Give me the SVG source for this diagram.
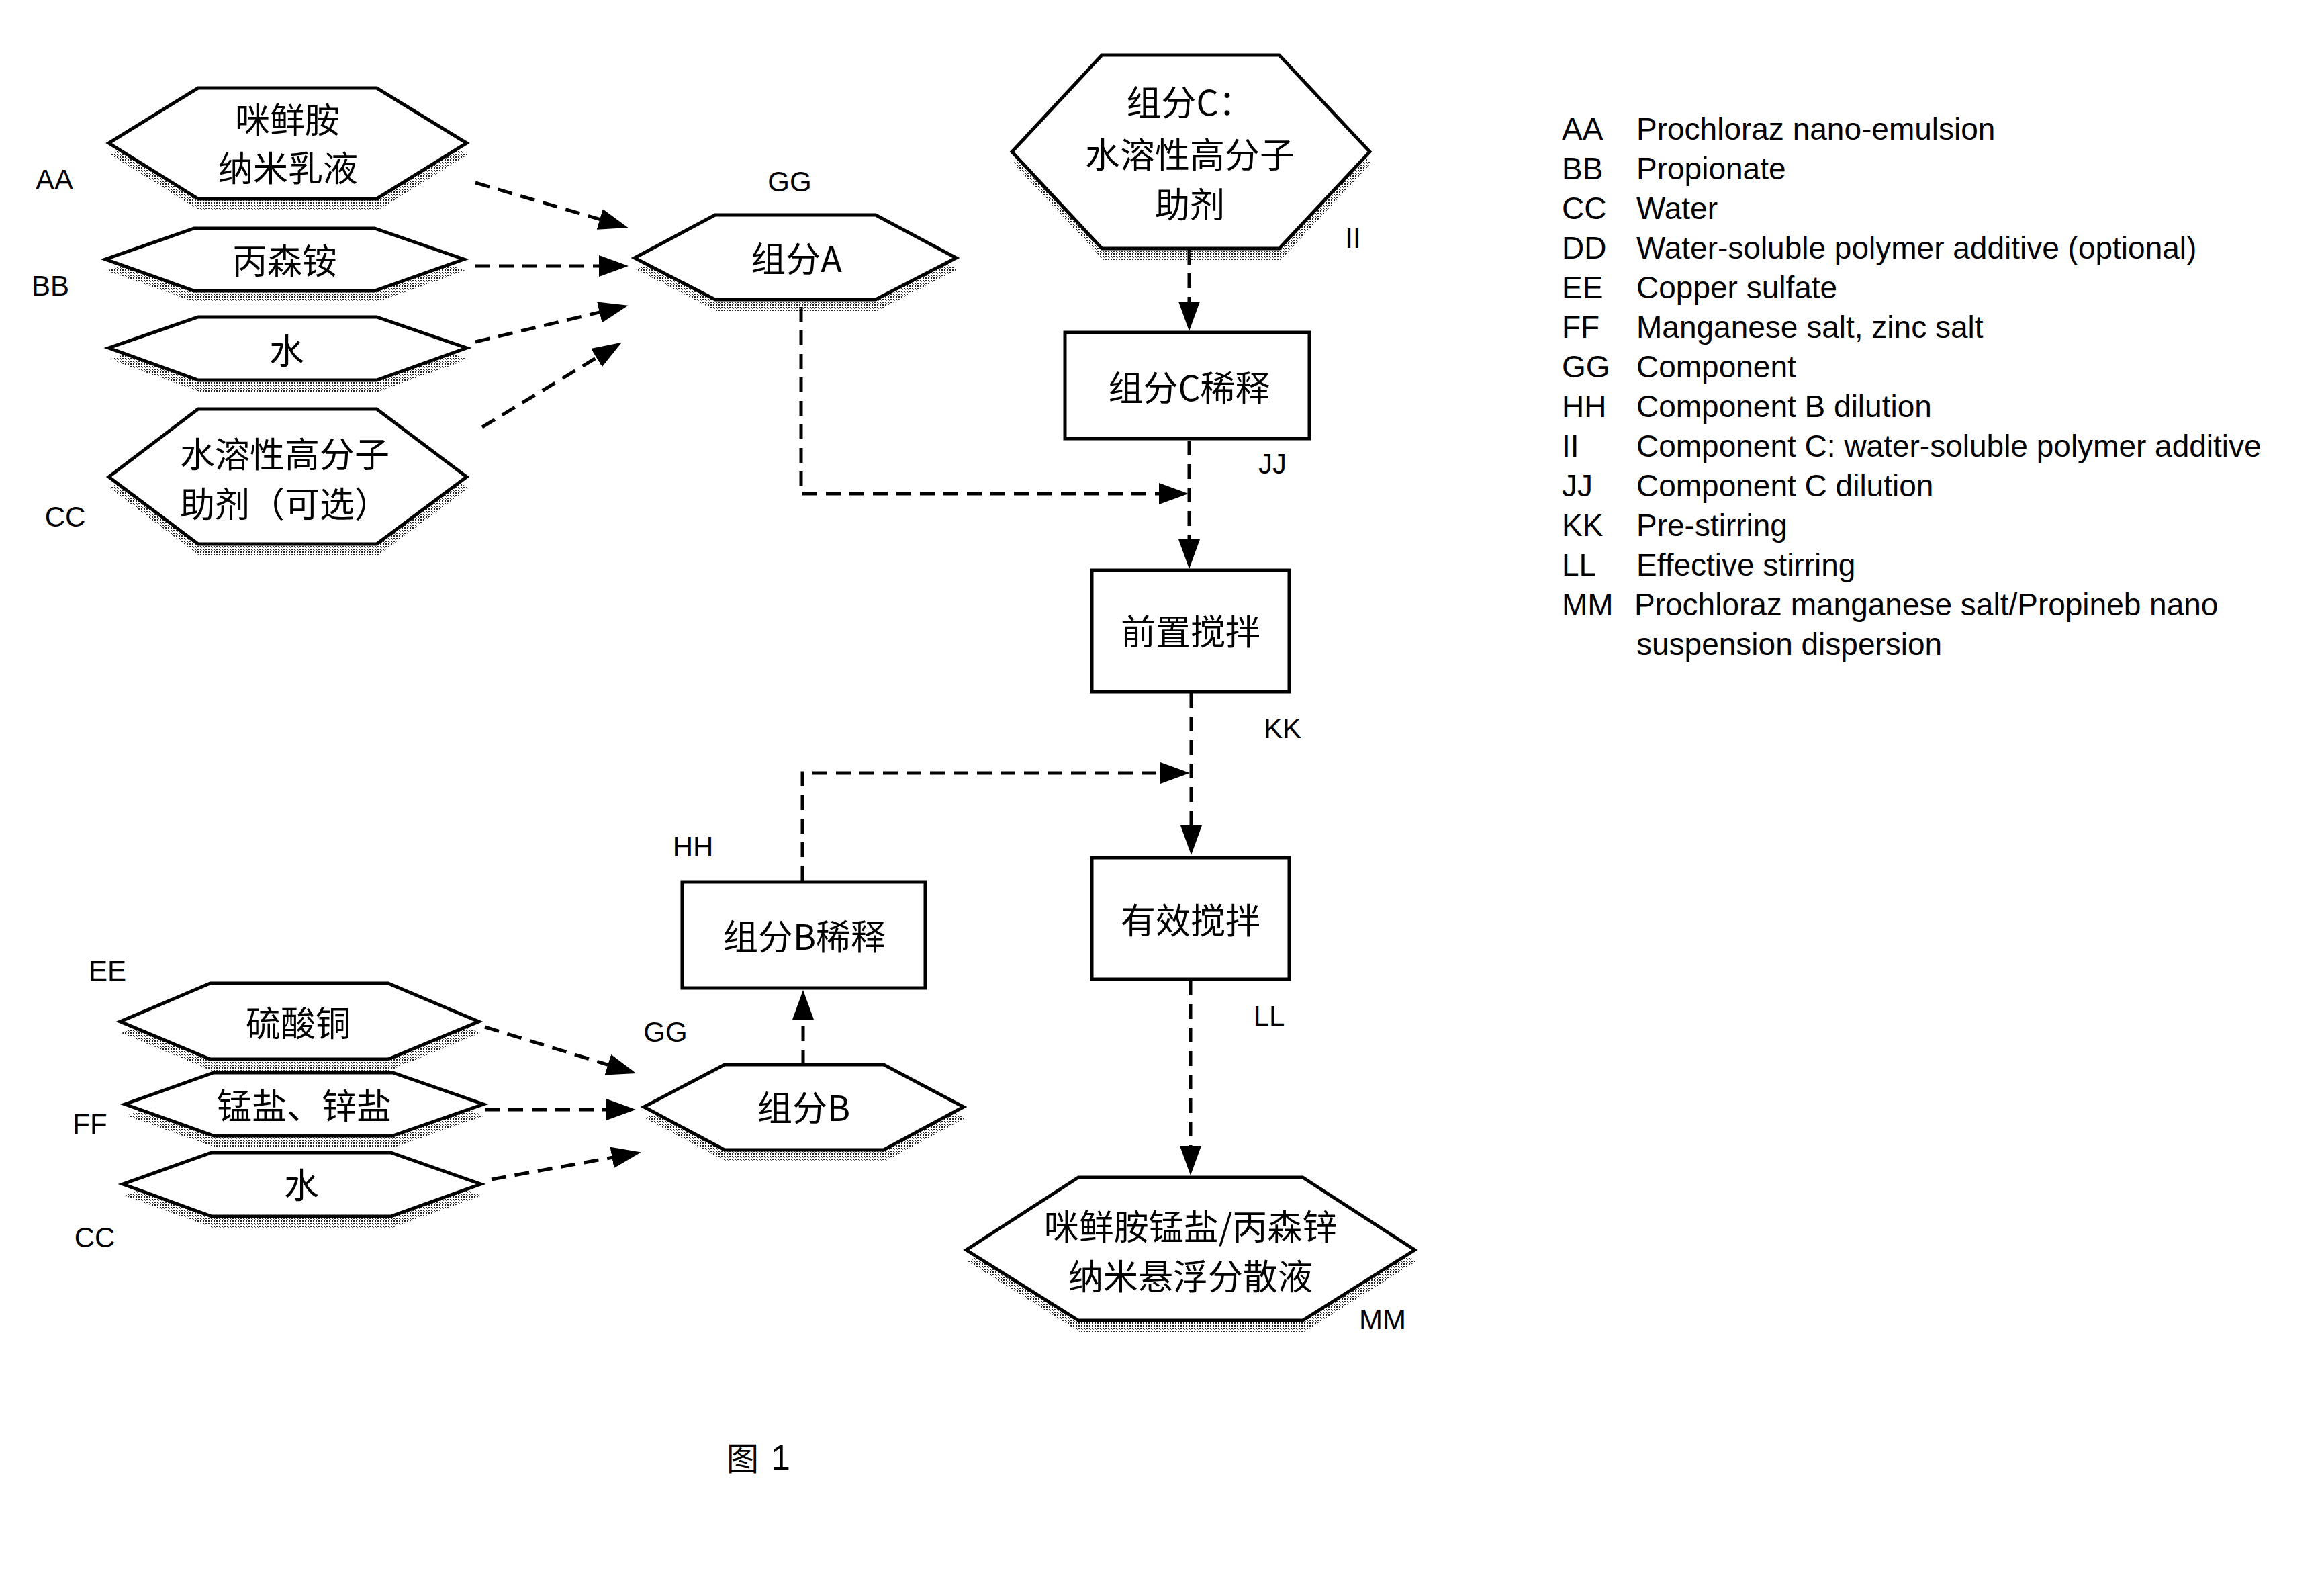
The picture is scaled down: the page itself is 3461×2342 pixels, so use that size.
<svg xmlns="http://www.w3.org/2000/svg" width="3461" height="2342" viewBox="0 0 3461 2342">
<defs>
<style>
.hex{fill:#fff;stroke:#000;stroke-width:5;stroke-linejoin:miter}
.box{fill:#fff;stroke:#000;stroke-width:5}
.sh{fill:url(#dots);stroke:none}
.cn{font-family:"Noto Sans CJK SC","Noto Sans",sans-serif;font-size:52px;fill:#000;text-anchor:middle}
.lb{font-family:"Liberation Sans",Arial,sans-serif;font-size:42px;fill:#000;text-anchor:middle}
.lg{font-family:"Liberation Sans",Arial,sans-serif;font-size:46px;fill:#000}
.ln{fill:none;stroke:#000;stroke-width:5;stroke-dasharray:22 13;marker-end:url(#arr)}
</style>
<pattern id="dots" width="4" height="4" patternUnits="userSpaceOnUse">
<rect x="0" y="0" width="2" height="2" fill="#222"/>
<rect x="2" y="2" width="1" height="1" fill="#666"/>
</pattern>
<marker id="arr" markerUnits="userSpaceOnUse" markerWidth="44" markerHeight="32" refX="30" refY="16" orient="auto">
<path d="M0,0 L44,16 L0,32 Z" fill="#000"/>
</marker>
</defs>
<rect width="3461" height="2342" fill="#fff"/>

<g id="connectors">
<line class="ln" x1="708" y1="272" x2="922" y2="335"/>
<line class="ln" x1="708" y1="396" x2="922" y2="396"/>
<line class="ln" x1="708" y1="509" x2="922" y2="458"/>
<line class="ln" x1="718" y1="636" x2="914" y2="517"/>
<path class="ln" d="M1193,457 V735 H1756"/>
<line class="ln" x1="1771" y1="372" x2="1771" y2="479"/>
<line class="ln" x1="1771" y1="656" x2="1771" y2="833"/>
<line class="ln" x1="1774" y1="1032" x2="1774" y2="1259"/>
<path class="ln" d="M1195,1311 V1151 H1758"/>
<line class="ln" x1="1773" y1="1460" x2="1773" y2="1736"/>
<line class="ln" x1="1196" y1="1585" x2="1196" y2="1488"/>
<line class="ln" x1="722" y1="1529" x2="934" y2="1594"/>
<line class="ln" x1="722" y1="1652" x2="933" y2="1652"/>
<line class="ln" x1="732" y1="1756" x2="941" y2="1718"/>
</g>

<g id="nAA">
<polygon class="sh" transform="translate(2,17)" points="295,131 561,131 695,213 561,296 295,296 162,213"/>
<polygon class="hex" points="295,131 561,131 695,213 561,296 295,296 162,213"/>
<text class="cn" x="428" y="198">咪鲜胺</text>
<text class="cn" x="429" y="270">纳米乳液</text>
<text class="lb" x="81" y="282">AA</text>
</g>

<g id="nBB">
<polygon class="sh" transform="translate(2,17)" points="289,340 558,340 691,386 558,433 289,433 157,386"/>
<polygon class="hex" points="289,340 558,340 691,386 558,433 289,433 157,386"/>
<text class="cn" x="424" y="408">丙森铵</text>
<text class="lb" x="75" y="440">BB</text>
</g>

<g id="nWater1">
<polygon class="sh" transform="translate(2,17)" points="295,472 561,472 695,518 561,566 295,566 162,518"/>
<polygon class="hex" points="295,472 561,472 695,518 561,566 295,566 162,518"/>
<text class="cn" x="427" y="542">水</text>
</g>

<g id="nCC">
<polygon class="sh" transform="translate(2,17)" points="295,609 561,609 695,710 561,810 295,810 162,710"/>
<polygon class="hex" points="295,609 561,609 695,710 561,810 295,810 162,710"/>
<text class="cn" x="268" y="696" style="text-anchor:start">水溶性高分子</text>
<text class="cn" x="268" y="770" style="text-anchor:start">助剂（可选）</text>
<text class="lb" x="97" y="784">CC</text>
</g>

<g id="nA">
<polygon class="sh" transform="translate(2,17)" points="1065,320 1304,320 1424,384 1304,446 1065,446 945,384"/>
<polygon class="hex" points="1065,320 1304,320 1424,384 1304,446 1065,446 945,384"/>
<text class="cn" x="1186" y="405">组分A</text>
<text class="lb" x="1176" y="285">GG</text>
</g>

<g id="nC">
<polygon class="sh" transform="translate(2,17)" points="1641,82 1905,82 2040,226 1905,370 1641,370 1507,226"/>
<polygon class="hex" points="1641,82 1905,82 2040,226 1905,370 1641,370 1507,226"/>
<text class="cn" x="1772" y="172">组分C：</text>
<text class="cn" x="1772" y="250">水溶性高分子</text>
<text class="cn" x="1772" y="324">助剂</text>
<text class="lb" x="2015" y="369">II</text>
</g>

<g id="nCdil">
<rect class="box" x="1586" y="495" width="364" height="158"/>
<text class="cn" x="1771" y="597">组分C稀释</text>
<text class="lb" x="1895" y="705">JJ</text>
</g>

<g id="nPre">
<rect class="box" x="1626" y="849" width="294" height="181"/>
<text class="cn" x="1773" y="960">前置搅拌</text>
<text class="lb" x="1910" y="1099">KK</text>
</g>

<g id="nEff">
<rect class="box" x="1626" y="1277" width="294" height="181"/>
<text class="cn" x="1773" y="1390">有效搅拌</text>
<text class="lb" x="1890" y="1527">LL</text>
</g>

<g id="nBdil">
<rect class="box" x="1016" y="1313" width="362" height="158"/>
<text class="cn" x="1198" y="1414">组分B稀释</text>
<text class="lb" x="1032" y="1275">HH</text>
</g>

<g id="nB">
<polygon class="sh" transform="translate(2,17)" points="1079,1585 1316,1585 1435,1648 1316,1712 1079,1712 959,1648"/>
<polygon class="hex" points="1079,1585 1316,1585 1435,1648 1316,1712 1079,1712 959,1648"/>
<text class="cn" x="1197" y="1669">组分B</text>
<text class="lb" x="991" y="1551">GG</text>
</g>

<g id="nEE">
<polygon class="sh" transform="translate(2,17)" points="313,1464 578,1464 713,1521 578,1577 313,1577 179,1521"/>
<polygon class="hex" points="313,1464 578,1464 713,1521 578,1577 313,1577 179,1521"/>
<text class="cn" x="444" y="1543">硫酸铜</text>
<text class="lb" x="160" y="1460">EE</text>
</g>

<g id="nFF">
<polygon class="sh" transform="translate(2,17)" points="318,1597 585,1597 720,1644 585,1691 318,1691 186,1644"/>
<polygon class="hex" points="318,1597 585,1597 720,1644 585,1691 318,1691 186,1644"/>
<text class="cn" x="453" y="1666">锰盐、锌盐</text>
<text class="lb" x="134" y="1688">FF</text>
</g>

<g id="nWater2">
<polygon class="sh" transform="translate(2,17)" points="315,1716 582,1716 716,1763 582,1811 315,1811 183,1763"/>
<polygon class="hex" points="315,1716 582,1716 716,1763 582,1811 315,1811 183,1763"/>
<text class="cn" x="449" y="1784">水</text>
<text class="lb" x="141" y="1857">CC</text>
</g>

<g id="nMM">
<polygon class="sh" transform="translate(2,17)" points="1606,1753 1940,1753 2107,1861 1940,1966 1606,1966 1439,1861"/>
<polygon class="hex" points="1606,1753 1940,1753 2107,1861 1940,1966 1606,1966 1439,1861"/>
<text class="cn" x="1773" y="1846">咪鲜胺锰盐/丙森锌</text>
<text class="cn" x="1773" y="1920">纳米悬浮分散液</text>
<text class="lb" x="2059" y="1979">MM</text>
</g>

<g id="legend">
<text class="lg" x="2326" y="208">AA</text><text class="lg" x="2437" y="208">Prochloraz nano-emulsion</text>
<text class="lg" x="2326" y="267">BB</text><text class="lg" x="2437" y="267">Propionate</text>
<text class="lg" x="2326" y="326">CC</text><text class="lg" x="2437" y="326">Water</text>
<text class="lg" x="2326" y="385">DD</text><text class="lg" x="2437" y="385">Water-soluble polymer additive (optional)</text>
<text class="lg" x="2326" y="444">EE</text><text class="lg" x="2437" y="444">Copper sulfate</text>
<text class="lg" x="2326" y="503">FF</text><text class="lg" x="2437" y="503">Manganese salt, zinc salt</text>
<text class="lg" x="2326" y="562">GG</text><text class="lg" x="2437" y="562">Component</text>
<text class="lg" x="2326" y="621">HH</text><text class="lg" x="2437" y="621">Component B dilution</text>
<text class="lg" x="2326" y="680">II</text><text class="lg" x="2437" y="680">Component C: water-soluble polymer additive</text>
<text class="lg" x="2326" y="739">JJ</text><text class="lg" x="2437" y="739">Component C dilution</text>
<text class="lg" x="2326" y="798">KK</text><text class="lg" x="2437" y="798">Pre-stirring</text>
<text class="lg" x="2326" y="857">LL</text><text class="lg" x="2437" y="857">Effective stirring</text>
<text class="lg" x="2326" y="916">MM</text><text class="lg" x="2434" y="916">Prochloraz manganese salt/Propineb nano</text>
<text class="lg" x="2437" y="975">suspension dispersion</text>
</g>

<g id="caption">
<text x="1082" y="2189" style="font-family:'Noto Sans CJK SC',sans-serif;font-size:48px">图</text>
<text x="1148" y="2188" style="font-family:'Liberation Sans',Arial,sans-serif;font-size:52px">1</text>
</g>
</svg>
